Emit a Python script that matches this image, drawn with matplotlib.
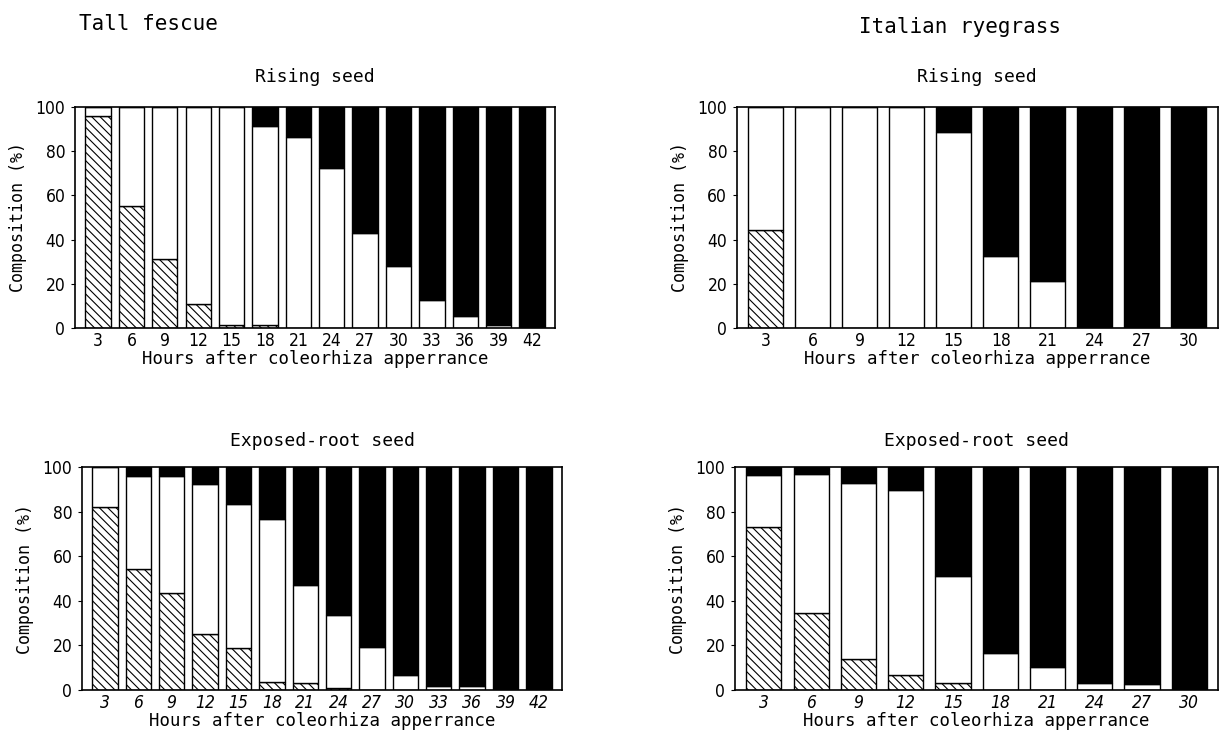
import matplotlib as mpl
mpl.use('Agg')
import matplotlib.pyplot as plt
import numpy as np

plt.rcParams['hatch.linewidth'] = 0.8
plt.rcParams['hatch.color'] = 'black'

mono = 'DejaVu Sans Mono'
narrow = 'DejaVu Sans'

# data (percent composition) #########################################

hours_tf = [3, 6, 9, 12, 15, 18, 21, 24, 27, 30, 33, 36, 39, 42]
hours_ir = [3, 6, 9, 12, 15, 18, 21, 24, 27, 30]

# Tall fescue, rising seed
tf_rise_hatch = [96, 55, 31, 11, 1.5, 1.5, 0, 0, 0, 0, 0, 0, 0, 0]
tf_rise_white = [4, 45, 69, 89, 98.5, 89.8, 86.5, 72.2, 42.9, 27.8, 12.6, 5.3, 1.2, 0]
tf_rise_black = [0, 0, 0, 0, 0, 8.7, 13.5, 27.8, 57.1, 72.2, 87.4, 94.7, 98.8, 100]

# Italian ryegrass, rising seed
ir_rise_hatch = [44.4, 0, 0, 0, 0, 0, 0, 0, 0, 0]
ir_rise_white = [55.6, 100, 100, 100, 88.4, 32.6, 21.4, 0, 0, 0]
ir_rise_black = [0, 0, 0, 0, 11.6, 67.4, 78.6, 100, 100, 100]

# Tall fescue, exposed-root seed
tf_exp_hatch = [82, 54.2, 43.7, 25.1, 18.7, 3.7, 3.3, 0.7, 0, 0, 0, 0, 0, 0]
tf_exp_white = [18, 41.6, 52.1, 67.4, 64.8, 72.9, 43.9, 33.0, 19.5, 6.7, 1.8, 1.8, 0, 0]
tf_exp_black = [0, 4.2, 4.2, 7.5, 16.5, 23.4, 52.8, 66.3, 80.5, 93.3, 98.2, 98.2, 100, 100]

# Italian ryegrass, exposed-root seed
ir_exp_hatch = [73.0, 34.6, 13.8, 6.7, 3.3, 0, 0, 0, 0, 0]
ir_exp_white = [23.4, 62.1, 79.2, 83.1, 47.9, 16.7, 10.1, 3.0, 2.8, 0]
ir_exp_black = [3.6, 3.3, 7.0, 10.2, 48.8, 83.3, 89.9, 97.0, 97.2, 100]

fig = plt.figure(figsize=(12.2, 7.42), dpi=100)

panels = [
    ([0.0615, 0.558, 0.3934, 0.298], hours_tf, tf_rise_hatch, tf_rise_white, tf_rise_black, 'Rising seed', 0.76, 0.69, 'normal', 18),
    ([0.604, 0.558, 0.394, 0.298], hours_ir, ir_rise_hatch, ir_rise_white, ir_rise_black, 'Rising seed', 0.745, 0.61, 'normal', 18),
    ([0.0672, 0.0701, 0.3934, 0.3005], hours_tf, tf_exp_hatch, tf_exp_white, tf_exp_black, 'Exposed-root seed', 0.76, 0.69, 'italic', 15),
    ([0.6025, 0.0701, 0.396, 0.3005], hours_ir, ir_exp_hatch, ir_exp_white, ir_exp_black, 'Exposed-root seed', 0.745, 0.61, 'italic', 15),
]

for rect, hours, hatch, white, black, title, width, margin, xstyle, tpad in panels:
    ax = fig.add_axes(rect)
    x = np.arange(len(hours))
    hatch = np.array(hatch)
    white = np.array(white)
    black = np.array(black)
    ax.bar(x, hatch, width, color='white', edgecolor='black', hatch='\\\\\\\\', linewidth=1.0)
    ax.bar(x, white, width, bottom=hatch, color='white', edgecolor='black', linewidth=1.0)
    ax.bar(x, black, width, bottom=hatch + white, color='black', edgecolor='black', linewidth=1.0)
    ax.set_xlim(-margin, len(hours) - 1 + margin)
    ax.set_ylim(0, 100)
    ax.set_yticks([0, 20, 40, 60, 80, 100])
    ax.set_xticks(x)
    ax.set_xticklabels([str(h) for h in hours], family=narrow, stretch='condensed',
                       fontsize=12.5, style=xstyle)
    ax.set_yticklabels(['0', '20', '40', '60', '80', '100'], family=narrow,
                       stretch='condensed', fontsize=12.5)
    ax.tick_params(axis='x', length=0, pad=3)
    ax.tick_params(axis='y', length=3, width=0.8, pad=4)
    for s in ax.spines.values():
        s.set_linewidth(1.2)
    ax.set_title(title, family=mono, fontsize=13, pad=tpad)
    ax.set_xlabel('Hours after coleorhiza apperrance', family=mono, fontsize=12.5, labelpad=0)
    ax.set_ylabel('Composition (%)', family=mono, fontsize=12, labelpad=6)

fig.text(0.122, 0.967, 'Tall fescue', family=mono, fontsize=15, ha='center', va='center')
fig.text(0.787, 0.964, 'Italian ryegrass', family=mono, fontsize=15, ha='center', va='center')

plt.savefig('out.png', dpi=100)
